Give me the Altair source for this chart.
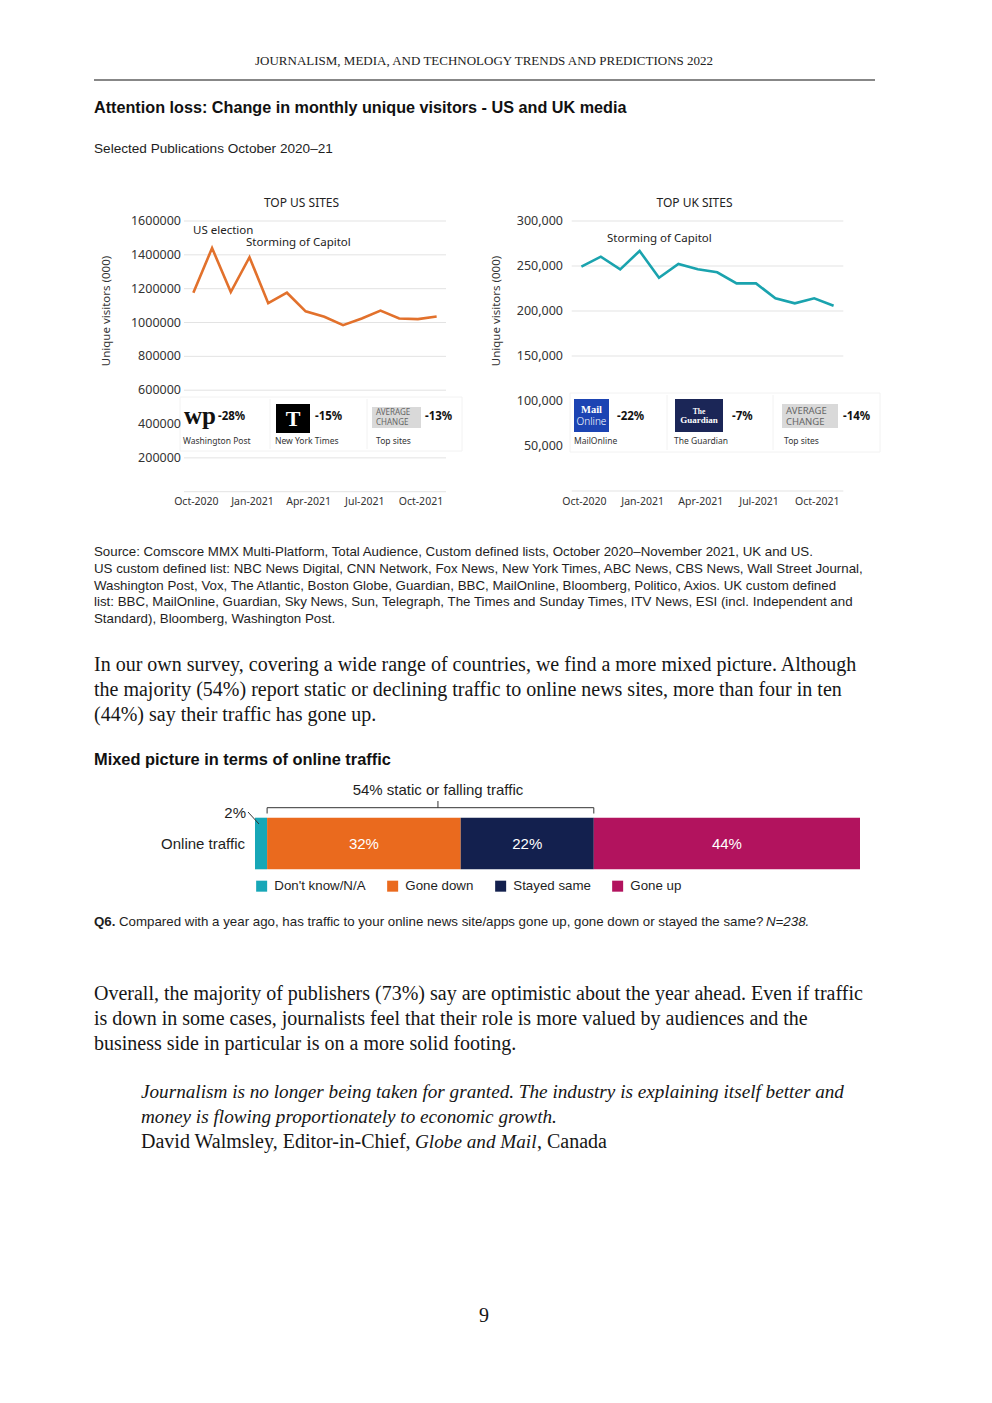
import altair as alt
import pandas as pd

# ---------------- data ----------------
months = ["Oct-2020", "Nov-2020", "Dec-2020", "Jan-2021", "Feb-2021", "Mar-2021", "Apr-2021",
          "May-2021", "Jun-2021", "Jul-2021", "Aug-2021", "Sep-2021", "Oct-2021", "Nov-2021"]
us_visitors = [1176000, 1440000, 1180000, 1386000, 1114000, 1176000, 1066000,
               1034000, 984000, 1024000, 1070000, 1024000, 1020000, 1036000]
uk_visitors = [249300, 260400, 246300, 266700, 237000, 252200, 246300,
               243000, 230700, 230700, 214100, 208500, 214100, 205900]
us_ticks = [0, 200000, 400000, 600000, 800000, 1000000, 1200000, 1400000, 1600000]
uk_ticks = [0, 50000, 100000, 150000, 200000, 250000, 300000]
axis_months = ["Oct-2020", "Jan-2021", "Apr-2021", "Jul-2021", "Oct-2021"]

us_sites = ["Washington Post", "New York Times", "Top sites"]
us_changes = ["-28%", "-15%", "-13%"]
uk_sites = ["MailOnline", "The Guardian", "Top sites"]
uk_changes = ["-22%", "-7%", "-14%"]

traffic_question = "Online traffic"
traffic_categories = ["Don't know/N/A", "Gone down", "Stayed same", "Gone up"]
traffic_values = [2, 32, 22, 44]
traffic_colors = ["#17a7b7", "#ea6a1e", "#13204e", "#b2135e"]

header_text = "JOURNALISM, MEDIA, AND TECHNOLOGY TRENDS AND PREDICTIONS 2022"
title_text = "Attention loss: Change in monthly unique visitors - US and UK media"
subtitle_text = "Selected Publications October 2020\u201321"
source_lines = [
    "Source: Comscore MMX Multi-Platform, Total Audience, Custom defined lists, October 2020\u2013November 2021, UK and US.",
    "US custom defined list: NBC News Digital, CNN Network, Fox News, New York Times, ABC News, CBS News, Wall Street Journal,",
    "Washington Post, Vox, The Atlantic, Boston Globe, Guardian, BBC, MailOnline, Bloomberg, Politico, Axios. UK custom defined",
    "list: BBC, MailOnline, Guardian, Sky News, Sun, Telegraph, The Times and Sunday Times, ITV News, ESI (incl. Independent and",
    "Standard), Bloomberg, Washington Post.",
]
para1 = [
    "In our own survey, covering a wide range of countries, we find a more mixed picture. Although",
    "the majority (54%) report static or declining traffic to online news sites, more than four in ten",
    "(44%) say their traffic has gone up.",
]
bar_title = "Mixed picture in terms of online traffic"
bracket_text = "54% static or falling traffic"
q6_lead = "Q6."
q6_text = "Compared with a year ago, has traffic to your online news site/apps gone up, gone down or stayed the same?"
q6_n = "N=238."
para2 = [
    "Overall, the majority of publishers (73%) say are optimistic about the year ahead. Even if traffic",
    "is down in some cases, journalists feel that their role is more valued by audiences and the",
    "business side in particular is on a more solid footing.",
]
quote_lines = [
    "Journalism is no longer being taken for granted. The industry is explaining itself better and",
    "money is flowing proportionately to economic growth.",
]
attribution = ["David Walmsley, Editor-in-Chief, ", "Globe and Mail", ", Canada"]
page_number = "9"

# ---------------- styling ----------------
OX, OY = 8, 8
W, H = 976, 1380
SERIF = "Liberation Serif"
NARROW = "Liberation Sans"
CHART = "Noto Sans"
INK = "#1e1e1e"
LABEL = "#333333"
GRID = "#e3e3e3"
US_COLOR = "#e2712c"
UK_COLOR = "#1aa3ae"

ONE = pd.DataFrame({"k": [0]})


def txt(s, x, y, size, font=NARROW, weight="normal", style="normal", align="left",
        color=INK, angle=None):
    kw = dict(text=s, font=font, fontSize=size, fontWeight=weight, fontStyle=style,
              align=align, baseline="middle", color=color)
    if angle is not None:
        kw["angle"] = angle
    return alt.Chart(ONE).mark_text(**kw).encode(x=alt.value(x - OX), y=alt.value(y - OY))


def box(x1, y1, x2, y2, fill, stroke=None):
    kw = dict(fill=fill)
    if stroke:
        kw.update(stroke=stroke, strokeWidth=1)
    return alt.Chart(ONE).mark_rect(**kw).encode(
        x=alt.value(x1 - OX), x2=alt.value(x2 - OX), y=alt.value(y1 - OY), y2=alt.value(y2 - OY))


def seg(x1, y1, x2, y2, color, width=1):
    return alt.Chart(ONE).mark_rule(color=color, strokeWidth=width).encode(
        x=alt.value(x1 - OX), x2=alt.value(x2 - OX), y=alt.value(y1 - OY), y2=alt.value(y2 - OY))


def line_chart(values, ticks, dmax, fmt, px0, px1, py_bottom, py_top, color, label_right):
    xs = alt.Scale(type="point", domain=months, range=[px0 - OX, px1 - OX], padding=0.5)
    ys = alt.Scale(type="linear", domain=[0, dmax], range=[py_bottom - OY, py_top - OY], nice=False)
    df = pd.DataFrame({"month": months, "visitors": values, "seq": list(range(len(months)))})
    grid = alt.Chart(pd.DataFrame({"tick": ticks})).mark_rule(color=GRID, strokeWidth=1).encode(
        y=alt.Y("tick:Q", scale=ys, axis=None), x=alt.value(px0 - OX), x2=alt.value(px1 - OX))
    ylab = alt.Chart(pd.DataFrame({"tick": ticks[1:]})).mark_text(
        align="right", baseline="middle", font=CHART, fontSize=12.5, color=LABEL).encode(
        y=alt.Y("tick:Q", scale=ys, axis=None), x=alt.value(label_right - OX),
        text=alt.Text("tick:Q", format=fmt))
    xlab = alt.Chart(pd.DataFrame({"month": axis_months})).mark_text(
        align="center", baseline="middle", dx=3, font=CHART, fontSize=10.5, color=LABEL).encode(
        x=alt.X("month:O", scale=xs, axis=None), y=alt.value(502 - OY), text="month:N")
    line = alt.Chart(df).mark_line(color=color, strokeWidth=2.6).encode(
        x=alt.X("month:O", scale=xs, axis=None),
        y=alt.Y("visitors:Q", scale=ys, axis=None),
        order=alt.Order("seq:Q"))
    return grid, ylab, xlab, line


# ---------------- US chart ----------------
us_grid, us_ylab, us_xlab, us_line = line_chart(
    us_visitors, us_ticks, 1600000, "d", 184, 446, 491.7, 221, US_COLOR, 181)
us_layers = [
    us_grid,
    box(180, 397, 462, 451, "#ffffff", "#f2f2f2"),
    seg(270, 399, 270, 449, "#f2f2f2"),
    seg(367, 399, 367, 449, "#f2f2f2"),
    txt("wp", 200, 416, 25, SERIF, weight="bold", align="center", color="#111111"),
    txt(us_changes[0], 218, 417, 11.5, CHART, weight="bold", color="#111111"),
    box(276, 404, 310, 433, "#000000"),
    txt("T", 293, 419, 22, SERIF, weight="bold", align="center", color="#ffffff"),
    txt(us_changes[1], 315, 417, 11.5, CHART, weight="bold", color="#111111"),
    box(372, 407, 421, 428, "#d9d9d9"),
    txt("AVERAGE", 376, 412.5, 8, CHART, color="#666666"),
    txt("CHANGE", 376, 422.5, 8, CHART, color="#666666"),
    txt(us_changes[2], 425, 417, 11.5, CHART, weight="bold", color="#111111"),
    txt(us_sites[0], 183, 441, 8.5, CHART, color=LABEL),
    txt(us_sites[1], 275, 441, 8.5, CHART, color=LABEL),
    txt(us_sites[2], 376, 441, 8.5, CHART, color=LABEL),
    us_ylab, us_xlab, us_line,
    txt("US election", 193, 231, 11.5, CHART, color="#222222"),
    txt("Storming of Capitol", 246, 243, 11.5, CHART, color="#222222"),
    txt("TOP US SITES", 301.5, 203, 12, CHART, align="center", color="#222222"),
    txt("Unique visitors (000)", 107, 311, 11.5, CHART, align="center", color=LABEL, angle=270),
]
us_chart = alt.layer(*us_layers)

# ---------------- UK chart ----------------
uk_grid, uk_ylab, uk_xlab, uk_line = line_chart(
    uk_visitors, uk_ticks, 300000, ",d", 571.7, 843.3, 491, 221, UK_COLOR, 563)
uk_layers = [
    uk_grid,
    box(570, 393, 880, 452, "#ffffff", "#f2f2f2"),
    seg(667, 395, 667, 450, "#f2f2f2"),
    seg(773, 395, 773, 450, "#f2f2f2"),
    box(574, 399, 609, 432, "#1c44b3"),
    txt("Mail", 591.5, 410, 10.5, SERIF, weight="bold", align="center", color="#ffffff"),
    txt("Online", 591.5, 421.5, 10, CHART, weight=300, align="center", color="#ffffff"),
    txt(uk_changes[0], 617, 417, 11.5, CHART, weight="bold", color="#111111"),
    box(675, 399, 723, 432, "#1b2657"),
    txt("The", 699, 412, 7.5, SERIF, weight="bold", align="center", color="#ffffff"),
    txt("Guardian", 699, 419.5, 9, SERIF, weight="bold", align="center", color="#ffffff"),
    txt(uk_changes[1], 732, 417, 11.5, CHART, weight="bold", color="#111111"),
    box(782, 404, 838, 428, "#d9d9d9"),
    txt("AVERAGE", 786, 410.5, 9.5, CHART, color="#666666"),
    txt("CHANGE", 786, 421.5, 9.5, CHART, color="#666666"),
    txt(uk_changes[2], 843, 417, 11.5, CHART, weight="bold", color="#111111"),
    txt(uk_sites[0], 574, 441, 8.5, CHART, color=LABEL),
    txt(uk_sites[1], 674, 441, 8.5, CHART, color=LABEL),
    txt(uk_sites[2], 784, 441, 8.5, CHART, color=LABEL),
    uk_ylab, uk_xlab, uk_line,
    txt("Storming of Capitol", 607, 239, 11.5, CHART, color="#222222"),
    txt("TOP UK SITES", 694.5, 203, 12, CHART, align="center", color="#222222"),
    txt("Unique visitors (000)", 497, 311, 11.5, CHART, align="center", color=LABEL, angle=270),
]
uk_chart = alt.layer(*uk_layers)

# ---------------- stacked bar ----------------
tdf = pd.DataFrame({
    "question": [traffic_question] * len(traffic_categories),
    "category": traffic_categories,
    "value": traffic_values,
    "rank": list(range(len(traffic_categories))),
})
bx = alt.Scale(domain=[0, 100], range=[255 - OX, 860 - OX], nice=False)
by = alt.Scale(type="band", domain=[traffic_question], range=[817.7 - OY, 869.3 - OY],
               paddingInner=0, paddingOuter=0)

bars = alt.Chart(tdf).mark_bar().encode(
    x=alt.X("value:Q", stack="zero", scale=bx, axis=None),
    y=alt.Y("question:N", scale=by, axis=None),
    color=alt.Color("category:N",
                    scale=alt.Scale(domain=traffic_categories, range=traffic_colors),
                    legend=alt.Legend(orient="none", legendX=255 - OX, legendY=879.5 - OY,
                                      direction="horizontal", title=None, symbolType="square",
                                      symbolSize=121, symbolStrokeWidth=0, labelFont=NARROW,
                                      labelFontSize=13.3, labelColor=INK, columnPadding=20,
                                      labelOffset=6, padding=0)),
    order=alt.Order("rank:Q"),
)
seg_labels = alt.Chart(tdf).transform_window(
    cum="sum(value)", sort=[alt.SortField("rank")], frame=[None, 0]
).transform_calculate(
    mid="datum.cum - datum.value / 2", label="datum.value + '%'"
).transform_filter("datum.value >= 5").mark_text(
    color="#ffffff", font=NARROW, fontSize=15, baseline="middle", align="center"
).encode(
    x=alt.X("mid:Q", scale=bx, axis=None),
    y=alt.Y("question:N", scale=by, axis=None),
    text="label:N",
)
small_label = alt.Chart(tdf).transform_filter("datum.rank == 0").transform_calculate(
    x0="0", label="datum.value + '%'"
).mark_text(color=INK, font=NARROW, fontSize=15, baseline="middle", align="right", dx=-9).encode(
    x=alt.X("x0:Q", scale=bx, axis=None), y=alt.value(813 - OY), text="label:N")
q_label = alt.Chart(pd.DataFrame({"question": [traffic_question]})).mark_text(
    color=INK, font=NARROW, fontSize=15, baseline="middle", align="right").encode(
    x=alt.value(245 - OX), y=alt.Y("question:N", scale=by, axis=None), text="question:N")

bdf = pd.DataFrame({"start": [traffic_values[0]], "end": [sum(traffic_values[:3])]})
bracket_h = alt.Chart(bdf).mark_rule(color="#333333", strokeWidth=1).encode(
    x=alt.X("start:Q", scale=bx, axis=None), x2="end:Q", y=alt.value(807.7 - OY))
bracket_ends = alt.Chart(bdf).transform_fold(["start", "end"], as_=["side", "pos"]).mark_rule(
    color="#333333", strokeWidth=1).encode(
    x=alt.X("pos:Q", scale=bx, axis=None), y=alt.value(807.7 - OY), y2=alt.value(813.5 - OY))
bracket_mid = alt.Chart(bdf).transform_calculate(mid="(datum.start + datum.end) / 2").mark_rule(
    color="#333333", strokeWidth=1, xOffset=7.5).encode(
    x=alt.X("mid:Q", scale=bx, axis=None), y=alt.value(801 - OY), y2=alt.value(807.7 - OY))
bracket_label = alt.Chart(bdf).transform_calculate(mid="(datum.start + datum.end) / 2").mark_text(
    text=bracket_text, font=NARROW, fontSize=15, color=INK, baseline="middle", align="center",
    dx=7.5).encode(x=alt.X("mid:Q", scale=bx, axis=None), y=alt.value(790 - OY))

bar_chart = alt.layer(bars, seg_labels, small_label, q_label, bracket_h, bracket_ends,
                      bracket_mid, bracket_label,
                      seg(248, 812, 259, 824, "#333333"))

# ---------------- page text ----------------
page_layers = [
    txt(header_text, 484, 61, 13, SERIF, align="center", color="#222222"),
    seg(94, 80, 875, 80, "#111111", 1.2),
    txt(title_text, 94, 108, 16.2, NARROW, weight="bold", color="#111111"),
    txt(subtitle_text, 94, 149, 13.6, NARROW, color=INK),
]
for i, s in enumerate(source_lines):
    page_layers.append(txt(s, 94, 552 + i * 16.8, 13.3, NARROW, color=INK))
for i, s in enumerate(para1):
    page_layers.append(txt(s, 94, 665 + i * 25, 20, SERIF, color="#161616"))
page_layers.append(txt(bar_title, 94, 760, 16.4, NARROW, weight="bold", color="#111111"))
page_layers += [
    txt(q6_lead, 94, 922, 13.3, NARROW, weight="bold", color=INK),
    txt(q6_text, 119, 922, 13.3, NARROW, color=INK),
    txt(q6_n, 766, 922, 13.3, NARROW, style="italic", color=INK),
]
for i, s in enumerate(para2):
    page_layers.append(txt(s, 94, 994 + i * 25, 20, SERIF, color="#161616"))
for i, s in enumerate(quote_lines):
    page_layers.append(txt(s, 141, 1092 + i * 25, 19.2, SERIF, style="italic", color="#161616"))
page_layers += [
    txt(attribution[0], 141, 1142, 20, SERIF, color="#161616"),
    txt(attribution[1], 415, 1142, 19.2, SERIF, style="italic", color="#161616"),
    txt(attribution[2], 537, 1142, 20, SERIF, color="#161616"),
    txt(page_number, 484, 1316, 20, SERIF, align="center", color="#161616"),
]

chart = alt.layer(*page_layers, us_chart, uk_chart, bar_chart).resolve_scale(
    x="independent", y="independent", color="independent"
).properties(
    width=W, height=H, padding=0, autosize=alt.AutoSizeParams(type="none")
).configure_view(stroke=None)

chart.save("out.html", embed_options={"renderer": "svg", "actions": False})
